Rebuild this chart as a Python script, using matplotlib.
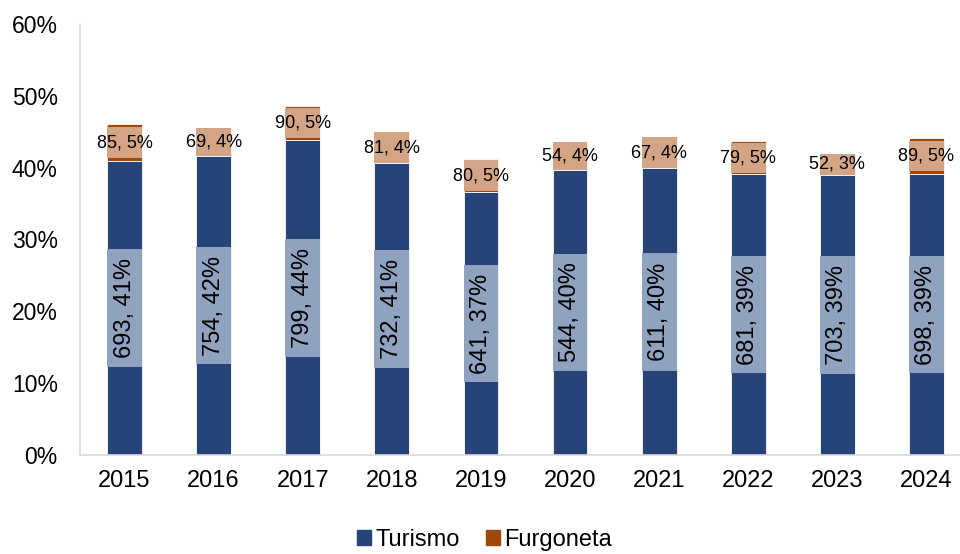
import matplotlib
matplotlib.use("Agg")
import matplotlib.pyplot as plt
from matplotlib.patches import Patch

plt.rcParams["font.family"] = ["Liberation Sans", "DejaVu Sans"]

# =====================================================
# Data
# =====================================================

years = ["2015", "2016", "2017", "2018", "2019",
         "2020", "2021", "2022", "2023", "2024"]

turismo_n = [693, 754, 799, 732, 641, 544, 611, 681, 703, 698]
turismo_pct = [40.9, 41.6, 43.8, 40.6, 36.6, 39.7, 39.9, 39.1, 39.0, 39.1]

furgoneta_n = [85, 69, 90, 81, 80, 54, 67, 79, 52, 89]
furgoneta_pct = [5.2, 3.9, 4.8, 4.4, 4.6, 3.9, 4.4, 4.6, 2.9, 5.0]

# =====================================================
# Style
# =====================================================

c_tur = "#264478"
c_tur_lbl = "#8FA2C0"
c_fur = "#9E480E"
c_fur_lbl = "#D4A585"
c_axis = "#D9D9D9"

bar_w = 0.39
tur_box_h = 16.4   # label background height (in % units)
fur_box_h = 4.2

fig = plt.figure(figsize=(9.6, 5.54), dpi=100)
ax = fig.add_axes([80 / 960, 99 / 554, 891 / 960, 431 / 554])

x = list(range(len(years)))

# =====================================================
# Bars
# =====================================================

ax.bar(x, turismo_pct, bar_w, color=c_tur, edgecolor="white", linewidth=0.6)
ax.bar(x, furgoneta_pct, bar_w, bottom=turismo_pct, color=c_fur,
       edgecolor="white", linewidth=0.6)

# =====================================================
# Labels with filled backgrounds
# =====================================================

for i in x:
    t = turismo_pct[i]
    f = furgoneta_pct[i]

    ax.bar(i, tur_box_h, bar_w, bottom=t / 2 - tur_box_h / 2,
           color=c_tur_lbl, linewidth=0)
    ax.text(i, t / 2, f"{turismo_n[i]}, {t:.0f}%", rotation=90,
            ha="center", va="center", fontsize=17, color="black")

    fb = min(f, fur_box_h)
    ax.bar(i, fb, bar_w, bottom=t + f / 2 - fb / 2,
           color=c_fur_lbl, linewidth=0)
    ax.text(i, t + f / 2, f"{furgoneta_n[i]}, {f:.0f}%",
            ha="center", va="center", fontsize=13, color="black")

# =====================================================
# Axes
# =====================================================

ax.set_xlim(-0.5, len(years) - 0.5)
ax.set_ylim(0, 60)
ax.set_xticks(x)
ax.set_xticklabels(years)
ax.set_yticks(range(0, 61, 10))
ax.set_yticklabels([f"{v}%" for v in range(0, 61, 10)])
ax.tick_params(axis="x", length=0, pad=11, labelsize=17)
ax.tick_params(axis="y", length=0, pad=16, labelsize=16.5)

for side in ["top", "right"]:
    ax.spines[side].set_visible(False)
for side in ["left", "bottom"]:
    ax.spines[side].set_color(c_axis)
    ax.spines[side].set_linewidth(1.2)

handles = [Patch(color=c_tur, label="Turismo"),
           Patch(color=c_fur, label="Furgoneta")]
fig.legend(handles=handles, loc="center", bbox_to_anchor=(0.505, 0.026),
           ncol=2, frameon=False, fontsize=17, handlelength=0.58,
           handleheight=0.58, handletextpad=0.2, columnspacing=1.1)

plt.savefig("out.png", dpi=100)
